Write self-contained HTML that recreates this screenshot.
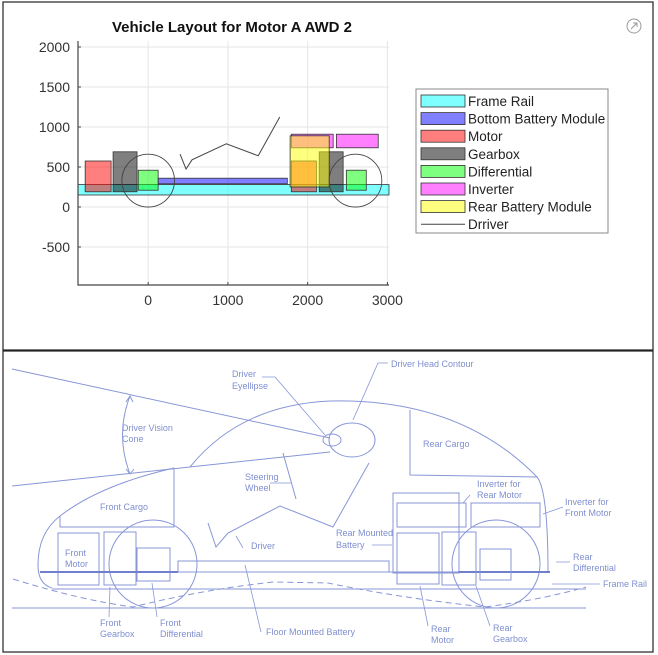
<!DOCTYPE html>
<html><head><meta charset="utf-8"><style>
body{margin:0;background:#fff;width:658px;height:655px;overflow:hidden;font-family:"Liberation Sans",sans-serif}
svg{position:absolute;left:0;top:0}
.sk text{font-family:"Liberation Sans",sans-serif;font-size:9px;fill:#7f8fcf}
</style></head><body>
<svg id="chart" width="658" height="655">
<rect x="3" y="2" width="650" height="348" fill="#fff" stroke="#222" stroke-width="1.2"/>
<rect x="3" y="351" width="650" height="301" fill="#fff" stroke="#222" stroke-width="1.2"/>
<text x="232" y="32" text-anchor="middle" font-size="15" font-weight="bold" fill="#111">Vehicle Layout for Motor A AWD 2</text>
<g id="grid"></g>
<g id="marks"></g>
<g id="axes"></g>
<g id="legend"></g>
<g><circle cx="634" cy="26" r="7" fill="none" stroke="#999" stroke-width="1"/><path d="M631 29 L637 23 M633 23 L637 23 L637 27" stroke="#999" fill="none" stroke-width="1"/></g>

<g class="sk" stroke="#8896d6" fill="none" stroke-width="1">
<path d="M12 369 L330 438"/>
<path d="M12 486 L330 452"/>
<path d="M130 396 Q115 435 130 474 M126 402 L130 396 L133 402 M126 469 L130 474 L134 469"/>
<path d="M190 467 Q240 405 330 401 Q460 398 537 477 Q548 490 548 573"/>
<path d="M174 468 Q100 485 60 516 Q38 533 38 565 Q38 584 52 588"/>
<path d="M174 469 L174 527 L60 527 L60 516"/>
<path d="M410 410 L410 475 L537 477"/>
<rect x="58" y="533" width="41" height="52"/>
<rect x="104" y="532" width="32" height="53"/>
<rect x="137" y="548" width="33" height="33"/>
<circle cx="153" cy="564" r="44"/>
<circle cx="496" cy="564" r="44"/>
<path d="M178 572 L178 561 L389 561 L389 572"/>
<path d="M40 572 L550 572"/>
<path d="M40 572 L178 572 M458 572 L550 572" stroke-width="2" stroke="#6f7fcc"/>
<path d="M52 589 L586 589"/>
<path d="M12 608 L586 608"/>
<path d="M13 579 Q80 600 133 607 Q200 590 273 582 L328 583 Q400 598 485 607 Q540 600 586 587" stroke-dasharray="6 4"/>
<path d="M208 523 L216 547 L228 533 L280 506 L333 527 L369 463"/>
<path d="M283 453 L296 499"/>
<ellipse cx="352" cy="440" rx="23" ry="17"/>
<ellipse cx="332" cy="440" rx="9" ry="6"/>
<rect x="393" y="493" width="66" height="80"/>
<rect x="397" y="503" width="69" height="24"/>
<rect x="471" y="503" width="69" height="24"/>
<rect x="397" y="533" width="42" height="51"/>
<rect x="442" y="532" width="34" height="53"/>
<rect x="480" y="549" width="31" height="31"/>
<path d="M262 377 L275 377 L325 435 M388 363 L378 363 L353 420 M270 483 L292 483 M243 548 L236 536 M372 545 L392 545 M470 495 L463 503 M563 507 L543 514 M570 562 L556 562 M600 584 L552 584 M109 617 L110 587 M157 617 L152 583 M261 632 L245 565 M428 626 L420 586 M490 626 L476 586" stroke-width="0.8"/>
<g stroke="none">
<text x="232" y="377">Driver</text><text x="232" y="389">Eyellipse</text>
<text x="391" y="367">Driver Head Contour</text>
<text x="122" y="431">Driver Vision</text><text x="122" y="442">Cone</text>
<text x="245" y="480">Steering</text><text x="245" y="491">Wheel</text>
<text x="100" y="510">Front Cargo</text>
<text x="423" y="447">Rear Cargo</text>
<text x="65" y="556">Front</text><text x="65" y="567">Motor</text>
<text x="251" y="549">Driver</text>
<text x="336" y="536">Rear Mounted</text><text x="336" y="548">Battery</text>
<text x="477" y="487">Inverter for</text><text x="477" y="498">Rear Motor</text>
<text x="565" y="505">Inverter for</text><text x="565" y="516">Front Motor</text>
<text x="573" y="560">Rear</text><text x="573" y="571">Differential</text>
<text x="603" y="587">Frame Rail</text>
<text x="100" y="626">Front</text><text x="100" y="637">Gearbox</text>
<text x="160" y="626">Front</text><text x="160" y="637">Differential</text>
<text x="266" y="635">Floor Mounted Battery</text>
<text x="431" y="632">Rear</text><text x="431" y="643">Motor</text>
<text x="493" y="631">Rear</text><text x="493" y="642">Gearbox</text>
</g>
</g>
</svg>
<script>
const xTicks=[0,1000,2000,3000];
const yTicks=[2000,1500,1000,500,0,-500];
const partNames=["Frame Rail","Bottom Battery Module","Motor","Motor","Gearbox","Gearbox","Differential","Differential","Inverter","Inverter","Rear Battery Module"];
const partColors=["#00ffff","#0000ff","#ff0000","#ff0000","#000000","#000000","#00ff00","#00ff00","#ff00ff","#ff00ff","#ffff00"];
const partX0=[-880,125,-790,1795,-440,2145,-125,2485,1795,2360,1780];
const partX1=[3020,1745,-465,2110,-140,2445,125,2735,2320,2885,2270];
const partY0=[150,290,190,190,190,190,210,210,740,740,250];
const partY1=[280,360,575,575,690,690,460,460,910,910,890];
const wheelX=[0,2600];
const wheelY=[330,330];
const wheelR=[330,330];
const driverX=[400,475,550,980,1380,1650];
const driverY=[660,475,590,790,640,1125];
const legendLabels=["Frame Rail","Bottom Battery Module","Motor","Gearbox","Differential","Inverter","Rear Battery Module","Drriver"];
const legendColors=["#00ffff","#0000ff","#ff0000","#000000","#00ff00","#ff00ff","#ffff00",null];

const NS="http://www.w3.org/2000/svg";
const xMin=-880,xMax=3020,yMin=-975,yMax=2075;
const L=78,R=389,T=41,B=285;
function sx(v){return L+(v-xMin)/(xMax-xMin)*(R-L);}
function sy(v){return B-(v-yMin)/(yMax-yMin)*(B-T);}
function mk(tag,attrs,parent){const e=document.createElementNS(NS,tag);for(const k in attrs)e.setAttribute(k,attrs[k]);parent.appendChild(e);return e;}
const grid=document.getElementById('grid'),marks=document.getElementById('marks'),axes=document.getElementById('axes'),leg=document.getElementById('legend');
xTicks.forEach(t=>{
  const g=mk('line',{x1:sx(t),x2:sx(t),y1:T,y2:B,stroke:'#e6e6e6','stroke-width':1},grid);
  
  
  const tx=mk('text',{x:sx(t),y:B+20,'text-anchor':'middle','font-size':14,fill:'#333'},axes);
  tx.textContent=t;
  
  
  mk('line',{x1:sx(t),x2:sx(t),y1:B,y2:B-3,stroke:'#444'},axes);
});
yTicks.forEach(t=>{
  const g=mk('line',{x1:L,x2:R,y1:sy(t),y2:sy(t),stroke:'#e6e6e6','stroke-width':1},grid);
  
  
  const tx=mk('text',{x:L-8,y:sy(t)+5,'text-anchor':'end','font-size':14,fill:'#333'},axes);
  tx.textContent=t;
  
  
  mk('line',{x1:L,x2:L+3,y1:sy(t),y2:sy(t),stroke:'#444'},axes);
});
mk('path',{d:`M${L} ${T} L${L} ${B} L${R} ${B}`,stroke:'#444',fill:'none','stroke-width':1.2},axes);
partNames.forEach((n,i)=>{
  const r=mk('rect',{x:sx(partX0[i]),y:sy(partY1[i]),width:sx(partX1[i])-sx(partX0[i]),height:sy(partY0[i])-sy(partY1[i]),fill:partColors[i],'fill-opacity':0.5,stroke:'#333','stroke-width':0.8},marks);
  
  
});
wheelX.forEach((w,i)=>{
  const c=mk('ellipse',{cx:sx(w),cy:sy(wheelY[i]),rx:sx(w+wheelR[i])-sx(w),ry:sy(0)-sy(wheelR[i]),fill:'none',stroke:'#444','stroke-width':0.9},marks);
  
  
});
const dl=mk('polyline',{points:driverX.map((x,i)=>sx(x)+','+sy(driverY[i])).join(' '),fill:'none',stroke:'#444','stroke-width':1},marks);


const lb=mk('rect',{x:416,y:89,width:192,height:144,fill:'#fff',stroke:'#888'},leg);


legendLabels.forEach((l,i)=>{
  const cy=101+i*17.6;
  if(legendColors[i]){const s=mk('rect',{x:421,y:cy-6,width:44,height:12,fill:legendColors[i],'fill-opacity':0.5,stroke:'#333','stroke-width':0.8},leg);
    
    }
  else{mk('line',{x1:421,x2:465,y1:cy,y2:cy,stroke:'#444'},leg);}
  const t=mk('text',{x:468,y:cy+5,'font-size':13.5,fill:'#222'},leg);
  t.textContent=l;
  
  
});
</script>
</body></html>
